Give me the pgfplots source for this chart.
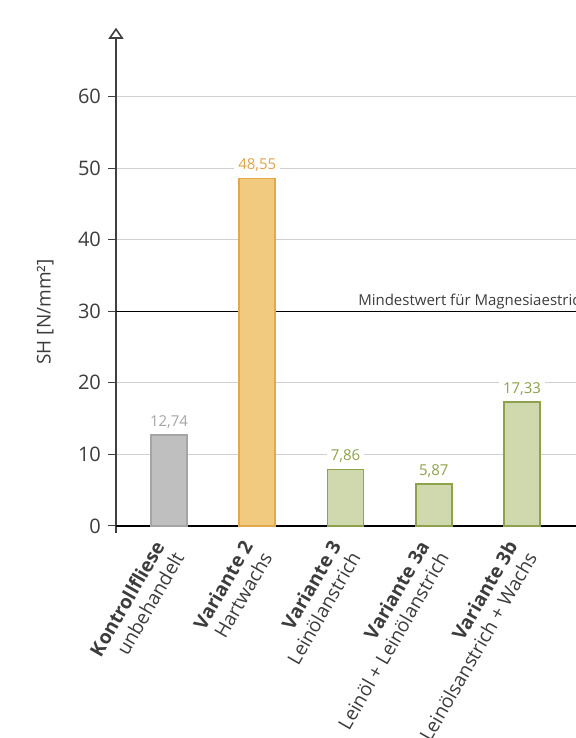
\documentclass[border=0pt]{standalone}
\usepackage{pgfplots}
\pgfplotsset{compat=1.18}
\usepackage{fontspec}
\setmainfont{Open Sans}
\usetikzlibrary{arrows.meta}
\definecolor{axisgray}{HTML}{404040}
\definecolor{textgray}{HTML}{3C3C3C}
\definecolor{gridgray}{HTML}{CFCFCF}
\definecolor{gfill}{HTML}{BFBFBF}
\definecolor{gdraw}{HTML}{A5A5A5}
\definecolor{ofill}{HTML}{F2CA7F}
\definecolor{odraw}{HTML}{E2A84C}
\definecolor{olabel}{HTML}{E0A34A}
\definecolor{vfill}{HTML}{D0D8AD}
\definecolor{vdraw}{HTML}{8DA24B}
\begin{document}
\begin{tikzpicture}
\useasboundingbox (-58pt,-102.5pt) rectangle (230pt,266.5pt);
\begin{axis}[
  at={(0,0)}, anchor=south west,
  scale only axis, width=230pt, height=252.6pt,
  xmin=-0.6006, xmax=4.612, ymin=-1, ymax=69.65,
  axis y line=left, axis x line*=bottom,
  x axis line style={draw=none},
  y axis line style={-{Triangle[open,length=5.5pt,width=7.5pt]}, line width=0.8pt, draw=axisgray},
  xtick={0,1,2,3,4},
  xticklabels={{\textbf{Kontrollfliese}\\unbehandelt},{\textbf{Variante 2}\\Hartwachs},{\textbf{Variante 3}\\Leinölanstrich},{\textbf{Variante 3a}\\Leinöl + Leinölanstrich},{\textbf{Variante 3b}\\Leinölsanstrich + Wachs}},
  xtick style={draw=none},
  xticklabel style={rotate=60, anchor=east, align=right, inner sep=0pt, font=\fontsize{9.6}{11.2}\selectfont, text=textgray},
  xticklabel shift=3.5pt,
  ytick={10,20,40,50,60},
  extra y ticks={0,30},
  extra y tick style={grid=major, major grid style={draw=black, line width=0.75pt}},
  ymajorgrids, major grid style={draw=gridgray, line width=0.5pt},
  tick align=outside, major tick length=4pt,
  ytick style={draw=axisgray, line width=0.6pt},
  yticklabel style={font=\fontsize{10}{12}\selectfont, text=textgray},
  ylabel={SH [N/mm²]},
  ylabel style={at={(axis description cs:-0.154,0.4376)}, anchor=center, font=\fontsize{9.5}{11}\selectfont, text=textgray},
  /pgf/number format/assume math mode=true,
  ybar, bar width=18pt, bar shift=0pt,
  nodes near coords={\pgfmathprintnumber[fixed,fixed zerofill,precision=2,use comma]{\pgfplotspointmeta}},
  every node near coord/.append style={font=\fontsize{7.5}{9}\selectfont, fill=white, inner ysep=1pt, inner xsep=2pt, yshift=2pt},
]
\addplot[fill=gfill, draw=gdraw, line width=0.8pt, every node near coord/.append style={text=gdraw}] coordinates {(0,12.74)};
\addplot[fill=ofill, draw=odraw, line width=0.8pt, every node near coord/.append style={text=olabel}] coordinates {(1,48.55)};
\addplot[fill=vfill, draw=vdraw, line width=0.8pt, every node near coord/.append style={text=vdraw}] coordinates {(2,7.86) (3,5.87) (4,17.33)};
\begin{scope}
\clip (rel axis cs:0,0) rectangle (rel axis cs:1,1);
\node[anchor=base west, inner sep=0pt, yshift=2.8pt, font=\fontsize{7.5}{9}\selectfont, text=textgray] at (axis cs:2.14,30) {Mindestwert für Magnesiaestrich};
\end{scope}
\end{axis}
\end{tikzpicture}
\end{document}
